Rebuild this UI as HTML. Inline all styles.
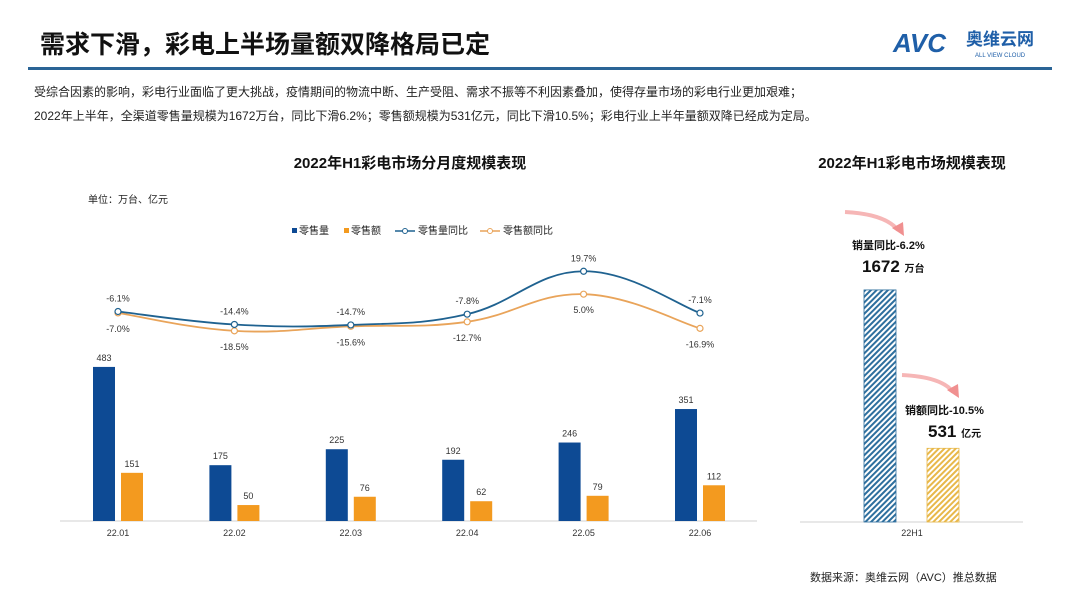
<!DOCTYPE html>
<html><head><meta charset="utf-8">
<style>
body{margin:0;background:#fff;}
#wrap{position:relative;width:1080px;height:608px;overflow:hidden;background:#fff;font-family:"Liberation Sans","Noto Sans CJK SC",sans-serif;}
svg text{font-family:"Liberation Sans","Noto Sans CJK SC",sans-serif;}
</style></head>
<body>
<div id="wrap">
<svg id="svg" width="1080" height="608" viewBox="0 0 1080 608">
<defs>
<pattern id="hb" width="4" height="4" patternUnits="userSpaceOnUse" patternTransform="rotate(45)"><rect width="4" height="4" fill="#fff"/><rect width="2" height="4" fill="#2e6f9e"/></pattern>
<pattern id="ho" width="4" height="4" patternUnits="userSpaceOnUse" patternTransform="rotate(45)"><rect width="4" height="4" fill="#fff"/><rect width="2" height="4" fill="#e8b84a"/></pattern>
</defs>
<text x="40" y="53" font-size="25" font-weight="bold" fill="#111">需求下滑，彩电上半场量额双降格局已定</text>
<g>
<text x="893" y="52" font-size="26" font-weight="bold" font-style="italic" fill="#1f5fa8">AVC</text>
<text x="966" y="45" font-size="17" font-weight="bold" fill="#1f5fa8">奥维云网</text>
<text x="975" y="57" font-size="6" fill="#1f5fa8">ALL VIEW CLOUD</text>
</g>
<rect x="28" y="67" width="1024" height="3" fill="#2a6496"/>
<text x="34" y="96" font-size="12" fill="#222">受综合因素的影响，彩电行业面临了更大挑战，疫情期间的物流中断、生产受阻、需求不振等不利因素叠加，使得存量市场的彩电行业更加艰难；</text>
<text x="34" y="120" font-size="12" fill="#222">2022年上半年，全渠道零售量规模为1672万台，同比下滑6.2%；零售额规模为531亿元，同比下滑10.5%；彩电行业上半年量额双降已经成为定局。</text>
<text x="410" y="168" font-size="15" font-weight="bold" fill="#111" text-anchor="middle">2022年H1彩电市场分月度规模表现</text>
<text x="912" y="168" font-size="15" font-weight="bold" fill="#111" text-anchor="middle">2022年H1彩电市场规模表现</text>
<text x="88" y="203" font-size="10" fill="#222">单位：万台、亿元</text>
<g font-size="10" fill="#222">
<g><rect x="292" y="228" width="5" height="5" fill="#0d4a94"/><text x="299" y="234">零售量</text></g>
<g><rect x="344" y="228" width="5" height="5" fill="#f39a1f"/><text x="351" y="234">零售额</text></g>
<g><line x1="395" y1="231" x2="415" y2="231" stroke="#1f6290" stroke-width="1.5"/><circle cx="405" cy="231" r="2.5" fill="#fff" stroke="#1f6290"/><text x="418" y="234">零售量同比</text></g>
<g><line x1="480" y1="231" x2="500" y2="231" stroke="#e9a45a" stroke-width="1.5"/><circle cx="490" cy="231" r="2.5" fill="#fff" stroke="#e9a45a"/><text x="503" y="234">零售额同比</text></g>
</g>
<line x1="60" y1="521" x2="757" y2="521" stroke="#d0d0d0"/>
<g id="left"></g>
<line x1="800" y1="522" x2="1023" y2="522" stroke="#d0d0d0"/>
<g id="right"></g>
<text x="912" y="536" font-size="9" fill="#333" text-anchor="middle">22H1</text>
<g><path d="M845 212 Q885 214 898 230" fill="none" stroke="#f6b6b6" stroke-width="4"/><path d="M892 228 L904 236 L903 222 Z" fill="#f09090"/></g>
<g><path d="M902 375 Q942 377 953 392" fill="none" stroke="#f6b6b6" stroke-width="4"/><path d="M947 390 L959 398 L958 384 Z" fill="#f09090"/></g>
<text x="852" y="249" font-size="11" font-weight="bold" fill="#111">销量同比-6.2%</text>
<text x="862" y="272" font-size="17" font-weight="bold" fill="#111">1672 <tspan font-size="10">万台</tspan></text>
<text x="905" y="414" font-size="11" font-weight="bold" fill="#111">销额同比-10.5%</text>
<text x="928" y="437" font-size="17" font-weight="bold" fill="#111">531 <tspan font-size="10">亿元</tspan></text>
<text x="810" y="581" font-size="11" fill="#222">数据来源：奥维云网（AVC）推总数据</text>
</svg>
</div>
<script>
const months=["22.01","22.02","22.03","22.04","22.05","22.06"];
const volume=[483,175,225,192,246,351];
const value=[151,50,76,62,79,112];
const volYoy=[-6.1,-14.4,-14.7,-7.8,19.7,-7.1];
const valYoy=[-7.0,-18.5,-15.6,-12.7,5.0,-16.9];
const h1Cats=["22H1"];
const h1Volume=[1672];
const h1Value=[531];

const NS="http://www.w3.org/2000/svg";
function mk(tag,attrs,parent){const e=document.createElementNS(NS,tag);for(const k in attrs)e.setAttribute(k,attrs[k]);parent.appendChild(e);return e;}
const left=document.getElementById('left');
const xC=i=>118+i*116.4;
const yBar=v=>521-v*0.319;
const yPct=p=>302-p*1.56;
months.forEach((m,i)=>{
  const c=xC(i);
  const b1=mk('rect',{x:c-25,y:yBar(volume[i]),width:22,height:521-yBar(volume[i]),fill:'#0d4a94'},left);
  
  
  const t1=mk('text',{x:c-14,y:yBar(volume[i])-6,'font-size':9,'text-anchor':'middle',fill:'#333'},left);t1.textContent=volume[i];
  
  
  const b2=mk('rect',{x:c+3,y:yBar(value[i]),width:22,height:521-yBar(value[i]),fill:'#f39a1f'},left);
  
  
  const t2=mk('text',{x:c+14,y:yBar(value[i])-6,'font-size':9,'text-anchor':'middle',fill:'#333'},left);t2.textContent=value[i];
  
  
  const tx=mk('text',{x:c,y:536,'font-size':9,'text-anchor':'middle',fill:'#333'},left);tx.textContent=m;
  
  
});
function smooth(pts){let d='M'+pts[0][0]+' '+pts[0][1];for(let i=0;i<pts.length-1;i++){const p0=pts[i-1]||pts[i],p1=pts[i],p2=pts[i+1],p3=pts[i+2]||p2;const t=0.2;d+=' C'+(p1[0]+(p2[0]-p0[0])*t)+' '+(p1[1]+(p2[1]-p0[1])*t)+' '+(p2[0]-(p3[0]-p1[0])*t)+' '+(p2[1]-(p3[1]-p1[1])*t)+' '+p2[0]+' '+p2[1];}return d;}
function line(arr,color,name,above){
  const pts=arr.map((v,i)=>[xC(i),yPct(v)]);
  const p=mk('path',{d:smooth(pts),fill:'none',stroke:color,'stroke-width':1.8},left);
  
  
  pts.forEach((q,i)=>{
    const c=mk('circle',{cx:q[0],cy:q[1],r:3,fill:'#fff',stroke:color,'stroke-width':1.2},left);
    
    
    const up=above[i];
    const t=mk('text',{x:q[0],y:up?q[1]-10:q[1]+19,'font-size':9,'text-anchor':'middle',fill:'#333'},left);
    t.textContent=arr[i].toFixed(1)+'%';
    
    
  });
}
line(valYoy,'#e9a45a','value-yoy',[false,false,false,false,false,false]);
line(volYoy,'#1f6290','volume-yoy',[true,true,true,true,true,true]);
// fix position of value 5.0 label (below point, like reference)
const right=document.getElementById('right');
const yR=v=>522-v*0.1388;
const bv=mk('rect',{x:864,y:yR(h1Volume[0]),width:32,height:522-yR(h1Volume[0]),fill:'url(#hb)',stroke:'#2e6f9e','stroke-width':0.8},right);


const bo=mk('rect',{x:927,y:yR(h1Value[0]),width:32,height:522-yR(h1Value[0]),fill:'url(#ho)',stroke:'#e8b84a','stroke-width':0.8},right);


</script>
</body></html>
